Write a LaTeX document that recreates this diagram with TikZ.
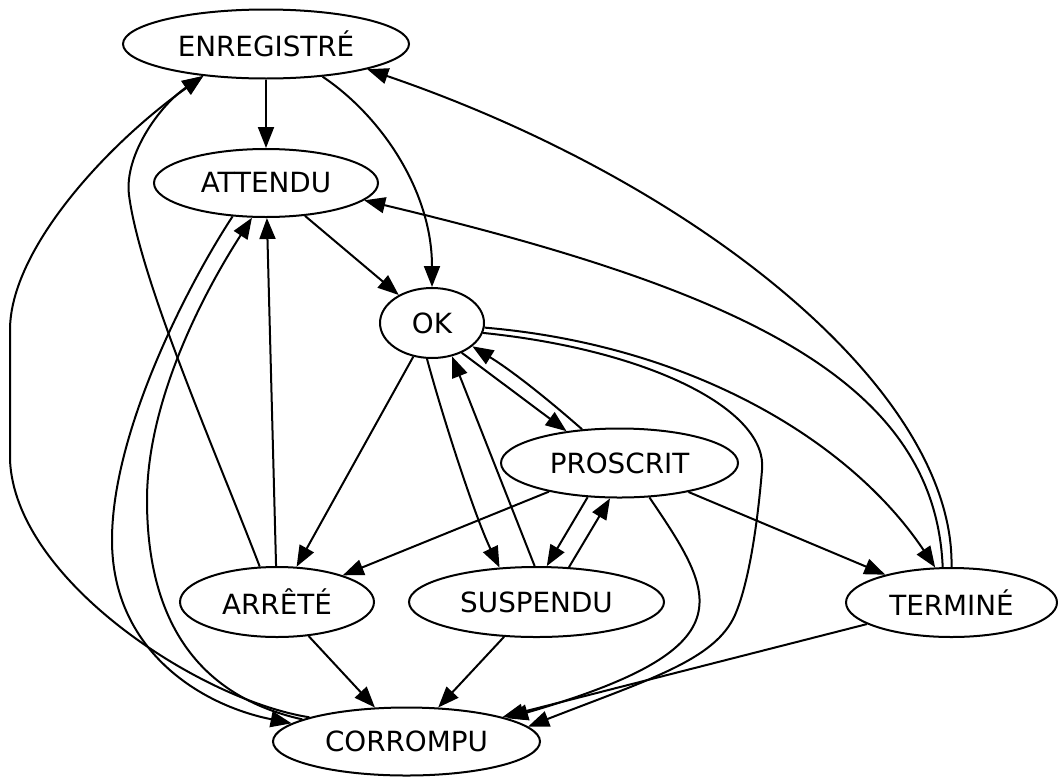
\documentclass[tikz,border=0pt]{standalone}
\usepackage{fontspec}
\setmainfont{DejaVu Sans}
\usetikzlibrary{shapes.geometric,arrows.meta}
\tikzset{
  state/.style={draw, ellipse, line width=1pt, inner sep=0pt,
    font=\fontsize{13.9pt}{16pt}\selectfont},
  conn/.style={draw, line width=1pt, -{Triangle[length=10.5pt,width=8pt]}},
}
\begin{document}
\begin{tikzpicture}[x=0.5pt, y=-0.5pt]
\useasboundingbox (0,0) rectangle (1058,776);

% states
\node[state, minimum width=143pt,   minimum height=34.5pt] (E) at (266,44)      {ENREGISTRÉ};
\node[state, minimum width=112pt,   minimum height=34pt]   (A) at (266,183)     {ATTENDU};
\node[state, minimum width=52pt,    minimum height=35pt]   (OK) at (432,323)    {OK};
\node[state, minimum width=118.5pt, minimum height=34.5pt] (P) at (619.5,463)   {PROSCRIT};
\node[state, minimum width=97pt,    minimum height=35pt]   (R) at (277,602)     {ARRÊTÉ};
\node[state, minimum width=127.5pt, minimum height=35pt]   (S) at (536.5,602)   {SUSPENDU};
\node[state, minimum width=105.5pt, minimum height=34.5pt] (T) at (951.5,602.5) {TERMINÉ};
\node[state, minimum width=133.5pt, minimum height=34pt]   (C) at (406.5,741.5) {CORROMPU};

% transitions
\draw[conn] (E) -- (A);
\draw[conn] (E.-30.5) .. controls (380,115) and (432,190) .. (OK.north);
\draw[conn] (T.north) .. controls (955,390) and (697,182) .. (E.-14.7);
\draw[conn] (T.104) .. controls (935,380) and (740,290) .. (A.-10);
\draw[conn] (A) -- (OK);

\draw[conn] (OK.-5) .. controls (690,345) and (850,440) .. (T.115);
\draw[conn] (OK.-11) .. controls (650,350) and (768,410) .. (762,470)
            .. controls (757,530) and (748,585) .. (735,615)
            .. controls (715,660) and (650,679) .. (C.7);
\draw[conn] (OK.-45) -- (P.149.4);
\draw[conn] (P.138) .. controls (551,402) and (514,372) .. (OK.-30);
\draw[conn] (OK) -- (R);
\draw[conn] (OK.-98) .. controls (443,418) and (475,517) .. (S.137.5);
\draw[conn] (S.93) -- (OK.-59.5);

\draw[conn] (P.227) -- (S.74);
\draw[conn] (S.47.2) -- (P.-105.7);
\draw[conn] (P) -- (R);
\draw[conn] (P) -- (T);
\draw[conn] (P.-49) .. controls (717,597) and (749,648) .. (C.13.7);

\draw[conn] (R) -- (A);
\draw[conn] (R) -- (C);
\draw[conn] (S) -- (C);
\draw[conn] (T) -- (C);

\draw[conn] (R.116) .. controls (215,450) and (140,280) .. (129,195)
            .. controls (124,155) and (160,105) .. (E.207.3);
\draw[conn] (C.166) .. controls (200,700) and (15,580) .. (10,460)
            -- (10,330) .. controls (10,250) and (106,145) .. (E.207.3);
\draw[conn] (A.-135.4) .. controls (190,281) and (112,430) .. (112,540)
            .. controls (112,650) and (200,705) .. (C.171.9);
\draw[conn] (C.168) .. controls (215,700) and (147,640) .. (147,500)
            .. controls (147,400) and (204,292) .. (A.-112.6);
\end{tikzpicture}
\end{document}
